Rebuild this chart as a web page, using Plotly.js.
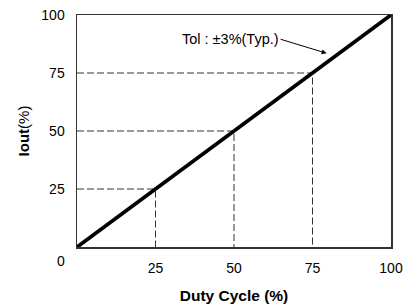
<!DOCTYPE html>
<html>
<head>
<meta charset="utf-8">
<script src="https://cdn.plot.ly/plotly-3.0.1.min.js"></script>
<style>html,body{margin:0;padding:0;background:#fff;}#chart{width:410px;height:306px;}</style>
</head>
<body>
<div id="chart"></div>
<script>
// Data
const dutyCycle = [0, 100];
const iout = [0, 100];
const guideLevels = [25, 50, 75];
const xTickVals = [25, 50, 75, 100];
const xTickText = ["25", "50", "75", "100"];
const yTickVals = [25, 50, 75, 100];
const yTickText = ["25", "50", "75", "100"];
const originLabel = "0";
const annotationText = "Tol : ±3%(Typ.)";
const arrowPoint = [79.5, 83.5];

const FONT = "'Liberation Sans', Arial, sans-serif";

const traces = [];
guideLevels.forEach(v => {
  traces.push({
    x: [0, v, v], y: [v, v, 0],
    mode: 'lines', type: 'scatter',
    line: {color: '#333', width: 1, dash: '7px,3px'},
    hoverinfo: 'skip', showlegend: false, cliponaxis: false
  });
});
traces.push({
  x: dutyCycle, y: iout, mode: 'lines', type: 'scatter',
  line: {color: '#000', width: 3.8}, showlegend: false, cliponaxis: false
});

const layout = {
  width: 410, height: 306,
  margin: {l: 77, r: 19, t: 15, b: 59},
  paper_bgcolor: '#fff', plot_bgcolor: '#fff',
  font: {family: FONT, size: 14, color: '#000'},
  xaxis: {
    range: [0, 100], tickvals: xTickVals, ticktext: xTickText,
    showgrid: false, zeroline: false, showline: true, mirror: true,
    linecolor: '#333', linewidth: 1.5, ticks: 'outside', ticklen: 8, tickcolor: 'rgba(0,0,0,0)',
    tickfont: {family: FONT, size: 14}, automargin: false,
    title: {text: '<b>Duty Cycle (%)</b>', font: {family: FONT, size: 15.5}, standoff: 15}
  },
  yaxis: {
    range: [0, 100], tickvals: yTickVals, ticktext: yTickText,
    showgrid: false, zeroline: false, showline: true, mirror: true,
    linecolor: '#333', linewidth: 1.5, ticks: 'outside', ticklen: 8, tickcolor: 'rgba(0,0,0,0)',
    tickfont: {family: FONT, size: 14}, automargin: false,
    title: {text: '<b>Iout</b>(%)', font: {family: FONT, size: 15}, standoff: 8}
  },
  annotations: [{
    x: arrowPoint[0], y: arrowPoint[1], xref: 'x', yref: 'y',
    text: annotationText, showarrow: true, arrowhead: 2, arrowsize: 1, arrowwidth: 1,
    arrowcolor: '#000', ax: -46, ay: -14, xanchor: 'right', yanchor: 'middle',
    font: {family: FONT, size: 14.5, color: '#000'}
  }, {
    x: 0, y: 0, xref: 'x', yref: 'y', text: originLabel, showarrow: false,
    xanchor: 'center', yanchor: 'middle', xshift: -16, yshift: -14,
    font: {family: FONT, size: 14, color: '#000'}
  }],
  showlegend: false
};

Plotly.newPlot('chart', traces, layout, {displayModeBar: false, staticPlot: true});
</script>
</body>
</html>
